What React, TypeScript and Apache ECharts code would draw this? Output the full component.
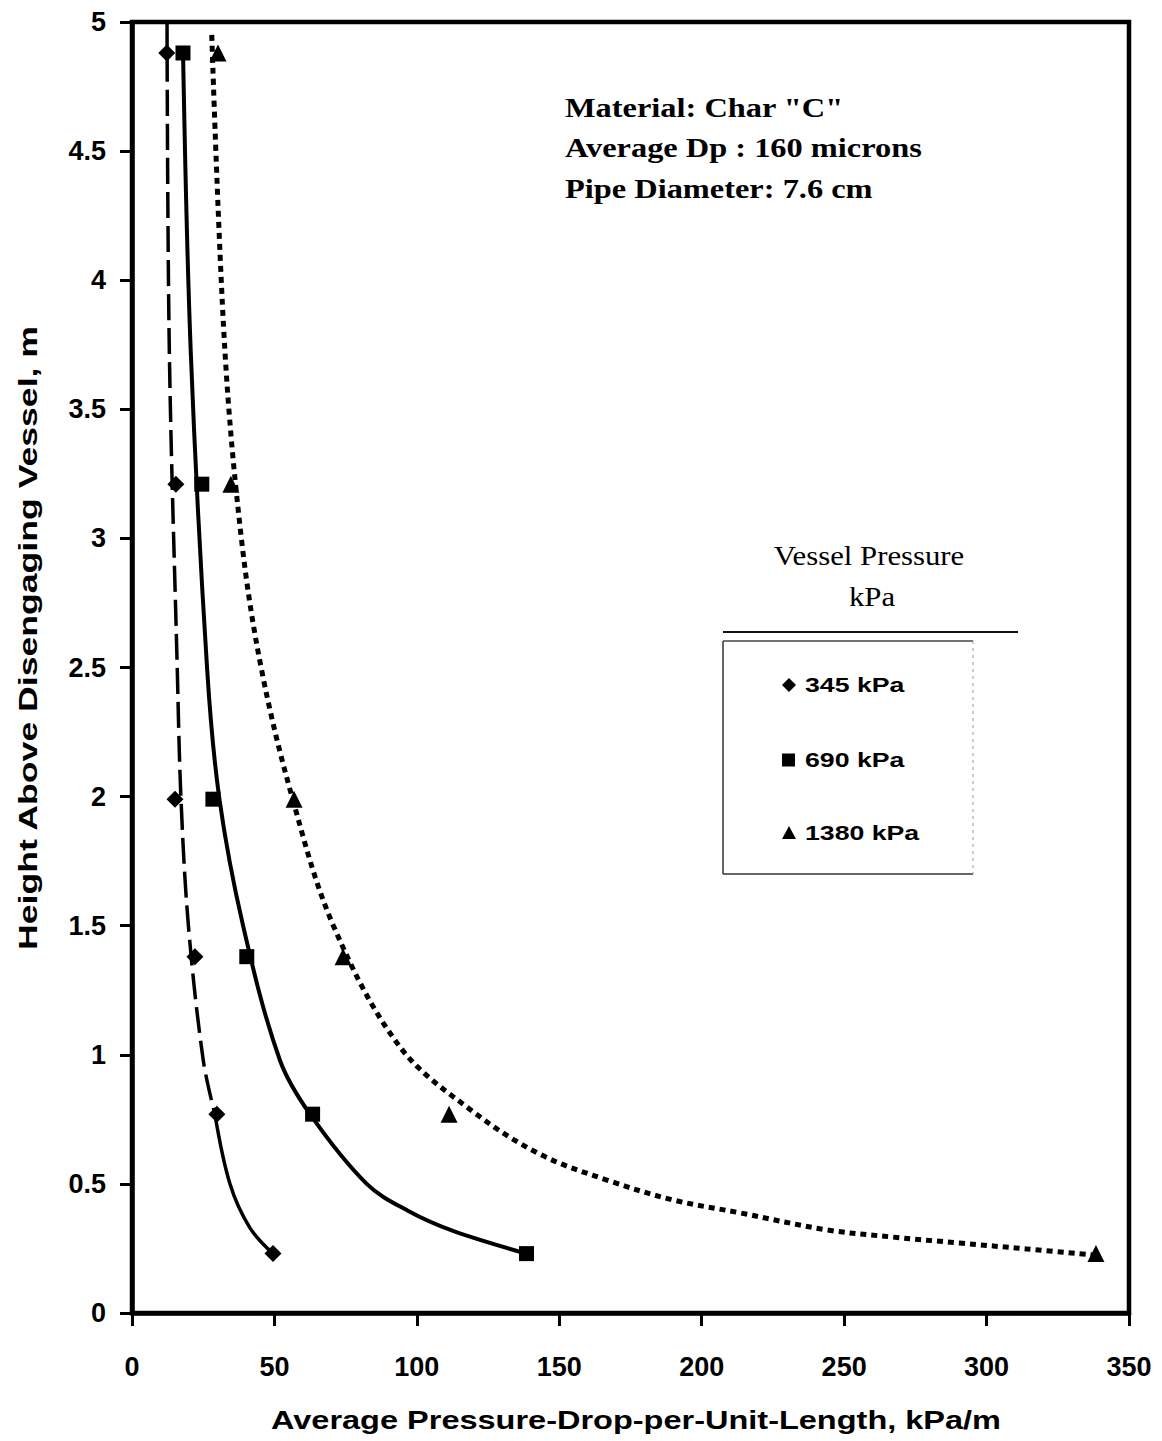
import React, { useEffect, useRef } from "react";
import * as echarts from "echarts";

// Measured points (x: average pressure drop per unit length, kPa/m; y: height, m)
const heights = [4.88, 3.21, 1.99, 1.38, 0.77, 0.23];
const dp345 = [12.2, 15.4, 15.1, 22.1, 29.8, 49.5];
const dp690 = [17.9, 24.5, 28.4, 40.3, 63.4, 138.5];
const dp1380 = [30.2, 34.7, 56.9, 74.1, 111.3, 338.4];

// Fitted curves
const curve345aX = [12.3, 13.1, 15.9, 17.2, 19.8, 25.0, 29.1];
const curve345aY = [5.0, 3.73, 2.49, 1.99, 1.5, 0.98, 0.77];
const curve345bX = [29.1, 34.4, 41.4, 49.5];
const curve345bY = [0.77, 0.5, 0.33, 0.23];
const curve690X = [17.9, 20.6, 26.4, 30.7, 39.0, 51.9, 62.5, 82.4, 97.0, 112.7, 138.5];
const curve690Y = [4.89, 3.73, 2.49, 1.99, 1.5, 0.98, 0.77, 0.5, 0.395, 0.318, 0.23];
const curve1380X = [28.0, 32.6, 38.5, 45.5, 56.4, 70.7, 94.1, 119.7, 143.2, 166.7, 189.9, 213.4, 243.9, 267.1, 290.6, 314.1, 338.4];
const curve1380Y = [4.95, 3.73, 2.99, 2.49, 1.99, 1.5, 1.03, 0.78, 0.615, 0.515, 0.438, 0.388, 0.322, 0.294, 0.271, 0.248, 0.224];

const seriesNames = ["345 kPa", "690 kPa", "1380 kPa"];
const noteLines = ['Material: Char "C"', "Average Dp : 160 microns", "Pipe Diameter: 7.6 cm"];
const legendTitle = ["Vessel Pressure", "kPa"];
const xTitle = "Average Pressure-Drop-per-Unit-Length, kPa/m";
const yTitle = "Height Above Disengaging Vessel, m";

const zip = (xs: number[], ys: number[]) => xs.map((x, i) => [x, ys[i]]);

const SANS = '"Liberation Sans", Arial, Helvetica, sans-serif';
const SERIF = '"Liberation Serif", "Times New Roman", serif';

export default function App() {
  const ref = useRef<HTMLDivElement>(null);
  useEffect(() => {
    if (!ref.current) return;
    const chart = echarts.init(ref.current, null, { renderer: "svg" });
    const lineBase = { type: "line", showSymbol: false, symbol: "none", smooth: 0.35, z: 2, silent: true };
    const legendY = [685, 760, 833];
    const scatterStyle = { color: "#000", opacity: 1 };
    const option: any = {
      animation: false,
      backgroundColor: "#fff",
      grid: { left: 132, top: 22, right: 33, bottom: 128, show: true, borderColor: "#000", borderWidth: 4.5 },
      xAxis: {
        type: "value",
        min: 0,
        max: 350,
        interval: 50,
        axisLine: { lineStyle: { color: "#000", width: 4.5 } },
        axisTick: { length: 13, lineStyle: { color: "#000", width: 3 } },
        axisLabel: { fontSize: 27, fontWeight: "bold", color: "#000", fontFamily: SANS, margin: 40 },
        splitLine: { show: false },
      },
      yAxis: {
        type: "value",
        min: 0,
        max: 5,
        interval: 0.5,
        axisLine: { lineStyle: { color: "#000", width: 4.5 } },
        axisTick: { length: 12, lineStyle: { color: "#000", width: 3 } },
        axisLabel: { fontSize: 27, fontWeight: "bold", color: "#000", fontFamily: SANS, margin: 26 },
        splitLine: { show: false },
      },
      series: [
        { ...lineBase, name: "c345a", data: zip(curve345aX, curve345aY), lineStyle: { color: "#000", width: 3.5, type: [26, 8] } },
        { ...lineBase, name: "c345b", data: zip(curve345bX, curve345bY), lineStyle: { color: "#000", width: 3.5 } },
        { ...lineBase, name: "c690", data: zip(curve690X, curve690Y), lineStyle: { color: "#000", width: 4 } },
        { ...lineBase, name: "c1380", data: zip(curve1380X, curve1380Y), lineStyle: { color: "#000", width: 5, type: [6, 5] } },
        { type: "scatter", name: seriesNames[0], symbol: "diamond", symbolSize: 17, itemStyle: scatterStyle, data: zip(dp345, heights), z: 5 },
        { type: "scatter", name: seriesNames[1], symbol: "rect", symbolSize: 15, itemStyle: scatterStyle, data: zip(dp690, heights), z: 5 },
        { type: "scatter", name: seriesNames[2], symbol: "triangle", symbolSize: 17, itemStyle: scatterStyle, data: zip(dp1380, heights), z: 5 },
      ],
      graphic: [
        // annotation
        ...noteLines.map((t, i) => ({
          type: "text",
          x: 565,
          y: 107 + i * 40.5,
          scaleX: 1.2,
          style: { text: t, fill: "#000", fontSize: 27, fontWeight: "bold", fontFamily: SERIF, textAlign: "left", textVerticalAlign: "middle" },
        })),
        // legend title
        { type: "text", x: 869, y: 556, scaleX: 1.14, style: { text: legendTitle[0], fill: "#000", fontSize: 27, fontFamily: SERIF, textAlign: "center", textVerticalAlign: "middle" } },
        { type: "text", x: 872, y: 597, scaleX: 1.14, style: { text: legendTitle[1], fill: "#000", fontSize: 27, fontFamily: SERIF, textAlign: "center", textVerticalAlign: "middle" } },
        // legend frame
        { type: "line", shape: { x1: 723, y1: 632, x2: 1018, y2: 632 }, style: { stroke: "#111", lineWidth: 2 } },
        { type: "line", shape: { x1: 723, y1: 641, x2: 973, y2: 641 }, style: { stroke: "#444", lineWidth: 1.5 } },
        { type: "line", shape: { x1: 723, y1: 641, x2: 723, y2: 874 }, style: { stroke: "#333", lineWidth: 1.5 } },
        { type: "line", shape: { x1: 723, y1: 874, x2: 973, y2: 874 }, style: { stroke: "#333", lineWidth: 1.5 } },
        { type: "line", shape: { x1: 973, y1: 641, x2: 973, y2: 874 }, style: { stroke: "#999", lineWidth: 1, lineDash: [3, 4] } },
        // legend symbols
        { type: "polygon", shape: { points: [[789, legendY[0] - 7], [796, legendY[0]], [789, legendY[0] + 7], [782, legendY[0]]] }, style: { fill: "#000" } },
        { type: "rect", shape: { x: 782, y: legendY[1] - 6.5, width: 13, height: 13 }, style: { fill: "#000" } },
        { type: "polygon", shape: { points: [[789, legendY[2] - 7], [796, legendY[2] + 6], [782, legendY[2] + 6]] }, style: { fill: "#000" } },
        ...seriesNames.map((t, i) => ({
          type: "text",
          x: 805,
          y: legendY[i],
          scaleX: 1.27,
          style: { text: t, fill: "#000", fontSize: 21, fontWeight: "bold", fontFamily: SANS, textAlign: "left", textVerticalAlign: "middle" },
        })),
        // axis titles
        { type: "text", x: 636, y: 1420, scaleX: 1.25, style: { text: xTitle, fill: "#000", fontSize: 26, fontWeight: "bold", fontFamily: SANS, textAlign: "center", textVerticalAlign: "middle" } },
        { type: "text", x: 28, y: 638, rotation: Math.PI / 2, scaleX: 1.37, style: { text: yTitle, fill: "#000", fontSize: 26, fontWeight: "bold", fontFamily: SANS, textAlign: "center", textVerticalAlign: "middle" } },
      ],
    };
    chart.setOption(option);
    return () => chart.dispose();
  }, []);
  return <div ref={ref} style={{ position: "absolute", left: 0, top: 0, width: 1162, height: 1441 }} />;
}
